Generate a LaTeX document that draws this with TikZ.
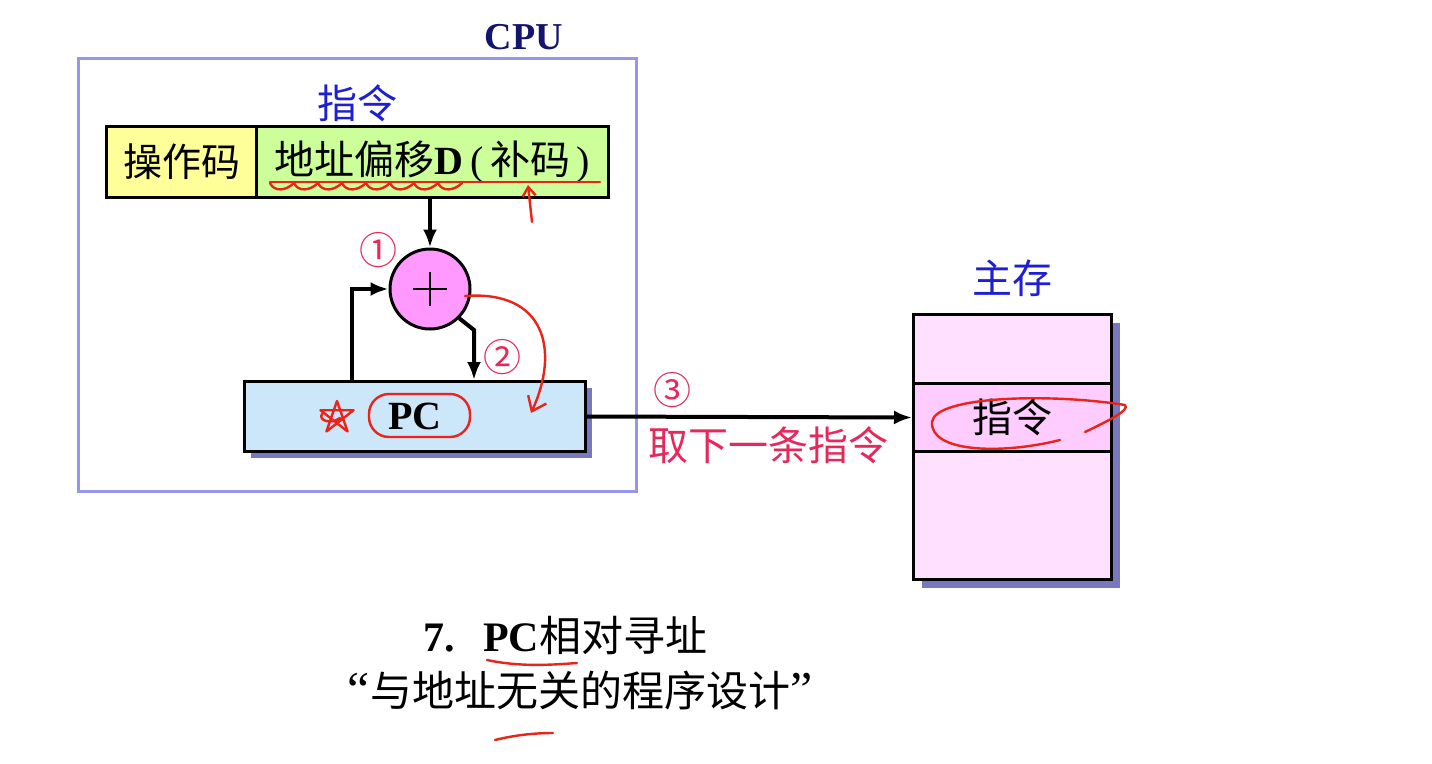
\documentclass[tikz,border=0pt]{standalone}
\usepackage{fontspec}
\setmainfont{Liberation Serif}
\newfontfamily\cjk{Noto Sans CJK SC}
\usetikzlibrary{arrows.meta,decorations.pathmorphing}
\definecolor{cpuframe}{RGB}{150,150,240}
\definecolor{navy}{RGB}{20,20,110}
\definecolor{blu}{RGB}{30,30,210}
\definecolor{opyellow}{RGB}{255,255,153}
\definecolor{addrgreen}{RGB}{204,255,153}
\definecolor{addpink}{RGB}{255,153,255}
\definecolor{pcblue}{RGB}{204,230,250}
\definecolor{shadowc}{RGB}{120,120,190}
\definecolor{mempink}{RGB}{255,225,255}
\definecolor{memmid}{RGB}{255,204,255}
\definecolor{pinktext}{RGB}{230,40,90}
\definecolor{annot}{RGB}{235,35,25}
\tikzset{
  box/.style={draw=black, line width=3pt, inner sep=0pt, anchor=north west},
  flowarrow/.style={draw=black, line width=4pt, -{Latex[length=18pt,width=14pt]}},
  note/.style={draw=annot, line width=2.4pt, line cap=round, line join=round},
}
\begin{document}
\begin{tikzpicture}[x=1pt,y=-1pt]
\useasboundingbox (0,0) rectangle (1432,763);
\fill[white] (0,0) rectangle (1432,763);

% CPU frame
\node[draw=cpuframe, line width=2.5pt, minimum width=558pt, minimum height=433pt, inner sep=0pt, anchor=north west] (cpu) at (77,57) {};
\node[font=\bfseries\fontsize{38}{40}\selectfont, text=navy] (cpulabel) at (524,37) {CPU};
\node[font=\cjk\fontsize{40}{44}\selectfont, text=blu] (instrlabel) at (357,103) {指令};

% instruction
\node[box, fill=opyellow, minimum width=150pt, minimum height=71pt, font=\cjk\fontsize{39}{44}\selectfont] (op) at (105,125) {操作码};
\node[box, fill=addrgreen, minimum width=352pt, minimum height=71pt, font=\fontsize{40}{44}\selectfont] (addr) at (255,125) {{\cjk 地址偏移}{\bfseries D}\,(\,{\cjk 补码}\,)};

% adder
\node[circle, draw=black, line width=3pt, fill=addpink, minimum size=80pt, inner sep=0pt] (add) at (430,289) {};
\draw[line width=1.5pt] ([xshift=-17pt]add.center) -- ([xshift=17pt]add.center)
  ([yshift=-17pt]add.center) -- ([yshift=17pt]add.center);
\node[font=\cjk\fontsize{38}{40}\selectfont, text=pinktext] (n1) at (378,250) {①};

% PC
\fill[shadowc] (251,388) rectangle (592,458);
\node[box, fill=pcblue, minimum width=341pt, minimum height=70pt] (pc) at (243,380) {};
\node[font=\bfseries\fontsize{40}{44}\selectfont] (pctext) at (415,416) {PC};
\node[font=\cjk\fontsize{38}{40}\selectfont, text=pinktext] (n2) at (502,357) {②};

% connectors
\draw[flowarrow] (add |- addr.south) -- (add.north);
\coordinate (pl) at (352,380);
\draw[flowarrow] (pl) |- (add.west);
\coordinate (bend) at (474,330);
\coordinate (pr) at (474,380);
\draw[flowarrow] (add.-45) -- (bend) -- (pr);

% memory
\fill[shadowc] (922,323) rectangle (1120,588);
\node[box, fill=mempink, minimum width=198pt, minimum height=69pt] (m1) at (912,313) {};
\node[box, fill=memmid, minimum width=198pt, minimum height=68pt, font=\cjk\fontsize{40}{44}\selectfont] (m2) at (912,382) {指令};
\node[box, fill=mempink, minimum width=198pt, minimum height=128pt] (m3) at (912,450) {};
\node[font=\cjk\fontsize{40}{44}\selectfont, text=blu] (memlabel) at (1012,278) {主存};

\draw[flowarrow] (pc.east) -- (m2.west);
\node[font=\cjk\fontsize{38}{40}\selectfont, text=pinktext] (n3) at (672,390) {③};
\node[font=\cjk\fontsize{40}{44}\selectfont, text=pinktext] (fetch) at (768,445) {取下一条指令};

% bottom title
\node[anchor=west, font=\fontsize{42}{46}\selectfont] (title) at (420,636) {{\bfseries 7.\ \ \,PC}{\cjk 相对寻址}};
\node[font=\fontsize{42}{46}\selectfont] (sub) at (580,690) {\fontsize{50}{46}\selectfont“{\fontsize{42}{46}\selectfont\cjk 与地址无关的程序设计}”};

% hand annotations
\draw[note] (270,182) -- (600,182);
\draw[note] (270,183) \foreach \i in {0,...,7} { .. controls ++(4,9) and ++(-8,8) .. ++(24,0) };
\draw[note, -{Straight Barb[length=9pt,width=13pt]}] (532,222) -- (528,185);
\draw[note, -{Straight Barb[length=13pt,width=20pt]}] (465,296) .. controls (545,290) and (560,350) .. (531,413);
\draw[note] (337,401) -- (326.4,431.5) -- (353.6,410.2) -- (320.4,410.2) -- (347.6,431.5) -- (337,401) (322,414) .. controls (318,420) and (330,425) .. (340,418);
\draw[note, rounded corners=20pt] (369,394) rectangle (470,437);
\draw[note] (1060,440) .. controls (1000,455) and (930,452) .. (932,422) .. controls (935,396) and (1050,393) .. (1125,405) .. controls (1130,410) and (1110,420) .. (1085,432);
\draw[note] (487,660) .. controls (520,667) and (550,665) .. (577,663);
\draw[note] (495,740) .. controls (515,735) and (535,733) .. (553,733);
\end{tikzpicture}
\end{document}
